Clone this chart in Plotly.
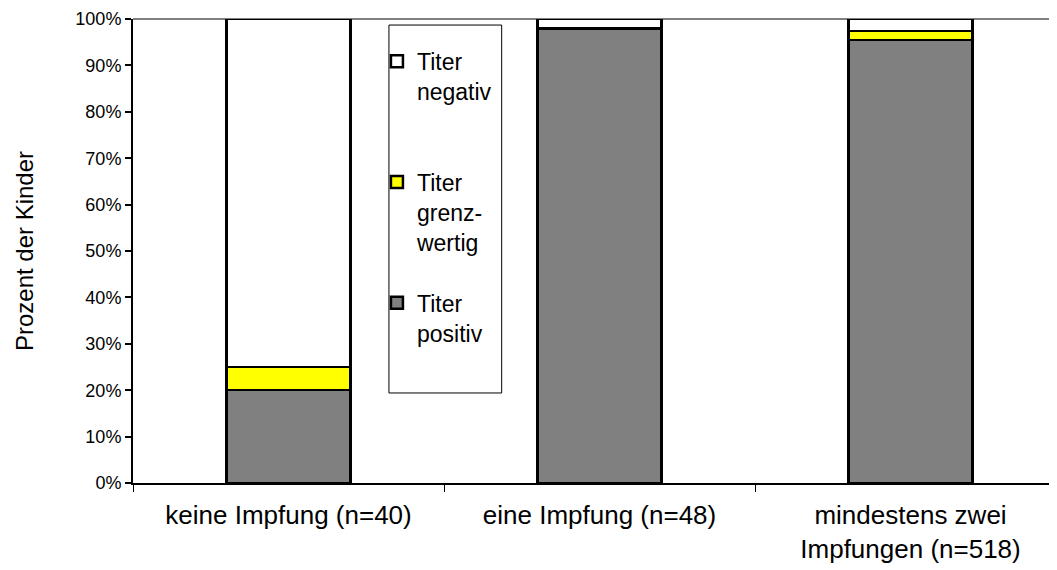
import plotly.graph_objects as go

categories = ["keine Impfung (n=40)", "eine Impfung (n=48)", "mindestens zwei<br>Impfungen (n=518)"]
positiv = [20.0, 97.9, 95.5]
grenzwertig = [5.0, 0.0, 1.9]
negativ = [75.0, 2.1, 2.6]
series_names = ["Titer<br>positiv<br> ", "Titer<br>grenz-<br>wertig", "Titer<br>negativ<br> "]
series_colors = ["#808080", "#FFFF00", "#FFFFFF"]
legend_ranks = [3, 2, 1]
y_ticks = [0, 10, 20, 30, 40, 50, 60, 70, 80, 90, 100]
y_tick_labels = [f"{v}%" for v in y_ticks]

fig = go.Figure()
for name, vals, col, rk in zip(series_names, [positiv, grenzwertig, negativ], series_colors, legend_ranks):
    fig.add_trace(go.Bar(
        x=categories, y=vals, name=name, legendgroup=name, legendrank=rk,
        marker=dict(color=col, line=dict(color="black", width=2.5)),
        width=0.4,
    ))

# page body adds an 8px offset, so the figure is sized/margined to compensate
fig.update_layout(
    barmode="stack",
    width=1049, height=562,
    margin=dict(l=125, r=0, t=11, b=87),
    paper_bgcolor="white", plot_bgcolor="white",
    font=dict(family="Liberation Sans, Arial, sans-serif", color="black"),
    showlegend=True,
    legend=dict(
        x=0.264, y=0.955, xanchor="left", yanchor="top",
        borderwidth=0,
        bgcolor="rgba(0,0,0,0)",
        traceorder="grouped",
        tracegroupgap=28,
        valign="top",
        font=dict(size=23),
        itemwidth=30,
    ),
    xaxis=dict(
        range=[-0.5, 2.471],
        showline=True, linecolor="black", linewidth=1.5,
        ticks="outside", tickson="boundaries", ticklen=7, tickcolor="black", tickwidth=1,
        tickfont=dict(size=26), ticklabelstandoff=8,
        showgrid=False, automargin=False,
    ),
    yaxis=dict(
        range=[0, 100],
        tickvals=y_ticks, ticktext=y_tick_labels,
        showline=True, linecolor="black", linewidth=2,
        ticks="outside", ticklen=6, tickcolor="black", tickwidth=2,
        tickfont=dict(size=18),
        showgrid=False, zeroline=False, automargin=False,
        title=dict(text="Prozent der Kinder", font=dict(size=24), standoff=35),
    ),
    shapes=[
        dict(type="line", xref="x domain", yref="y domain", x0=0, x1=1, y0=1, y1=1,
             line=dict(color="#808080", width=2), layer="below"),
        dict(type="rect", xref="paper", yref="paper", x0=0.277, x1=0.399, y0=0.194, y1=0.987,
             line=dict(color="black", width=1), fillcolor="white", layer="above"),
    ],
)

fig.write_html("out.html")
